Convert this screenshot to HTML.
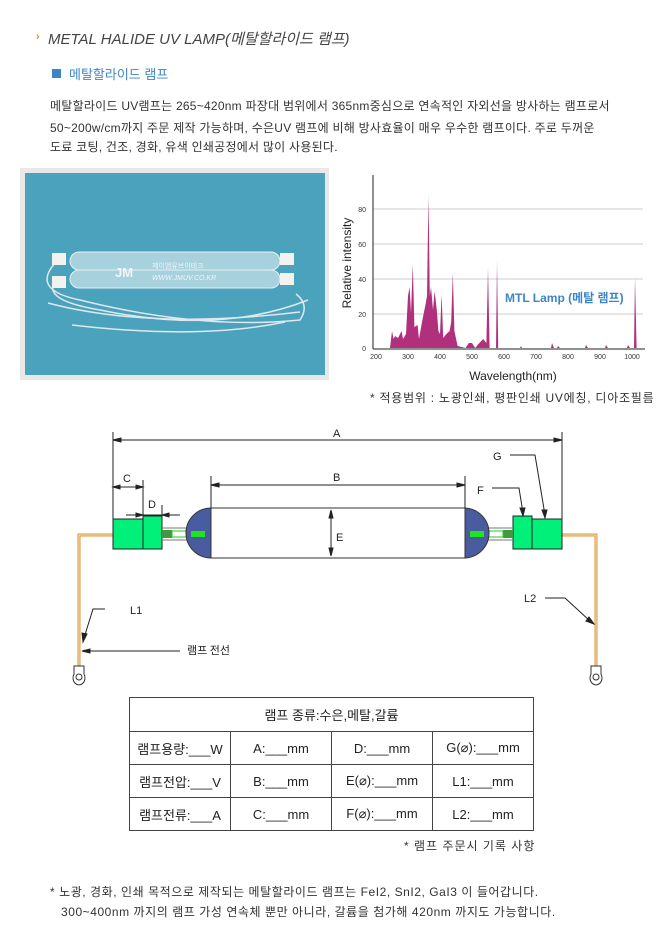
<!DOCTYPE html>
<html><head><meta charset="utf-8">
<style>
body{margin:0;width:670px;height:930px;background:#fff;position:relative;overflow:hidden;font-family:"Liberation Sans","Noto Sans CJK KR",sans-serif;}
.a{position:absolute;white-space:nowrap;}
.p{font-size:12px;color:#333;letter-spacing:0.25px;}
table{position:absolute;left:129px;top:697px;border-collapse:collapse;font-size:13px;color:#222;}
td{border:1px solid #444;text-align:center;height:32px;width:100px;padding:0;}
</style></head><body>
<div class="a" style="left:36px;top:31px;color:#e88a1a;font-size:11px;font-weight:bold">›</div>
<div class="a" style="left:48px;top:28px;font-size:15px;font-style:italic;color:#444">METAL HALIDE UV LAMP(메탈할라이드 램프)</div>
<div class="a" style="left:52px;top:69px;width:9px;height:9px;background:#3d86c6"></div>
<div class="a" style="left:69px;top:64px;font-size:13px;color:#3d86c6">메탈할라이드 램프</div>
<div class="a p" style="left:50px;top:97px">메탈할라이드 UV램프는 265~420nm 파장대 범위에서 365nm중심으로 연속적인 자외선을 방사하는 램프로서</div>
<div class="a p" style="left:50px;top:119px">50~200w/cm까지 주문 제작 가능하며, 수은UV 램프에 비해 방사효율이 매우 우수한 램프이다. 주로 두꺼운</div>
<div class="a p" style="left:50px;top:138px">도료 코팅, 건조, 경화, 유색 인쇄공정에서 많이 사용된다.</div>

<div class="a" style="left:20px;top:168px;width:309px;height:212px;background:#e8e8e8"></div>
<div class="a" style="left:25px;top:173px;width:300px;height:202px;background:#4aa2bd"></div>
<svg class="a" style="left:0;top:0" width="670" height="930">
<g fill="none" stroke="#dfe8ec" stroke-width="1.5">
<path d="M56 262 Q30 290 80 300 Q200 330 300 320 Q310 305 296 294"/>
<path d="M56 280 Q40 300 100 310 Q220 335 308 300"/>
<path d="M48 303 Q150 330 300 312"/>
<path d="M72 325 Q200 340 285 322"/>
</g>
<rect x="70" y="252" width="210" height="18" rx="9" fill="#a8d1de" stroke="#e6f0f3"/>
<rect x="70" y="270" width="210" height="18" rx="9" fill="#a8d1de" stroke="#e6f0f3"/>
<rect x="52" y="253" width="14" height="12" fill="#f2f2ee"/><rect x="280" y="253" width="14" height="12" fill="#f2f2ee"/>
<rect x="52" y="276" width="14" height="12" fill="#f2f2ee"/><rect x="280" y="273" width="14" height="12" fill="#f2f2ee"/>
<text x="115" y="277" font-size="13" font-weight="bold" fill="#eef6f8" font-family="Liberation Sans,sans-serif">JM</text>
<text x="152" y="268" font-size="7" fill="#eef6f8" font-family="Noto Sans CJK KR,sans-serif">제이엠유브이테크</text>
<text x="152" y="280" font-size="7" font-style="italic" fill="#eef6f8" font-family="Liberation Sans,sans-serif">WWW.JMUV.CO.KR</text>

<g stroke="#ccc" stroke-width="1">
<line x1="373" y1="209" x2="643" y2="209"/><line x1="373" y1="244" x2="643" y2="244"/>
<line x1="373" y1="279" x2="643" y2="279"/><line x1="373" y1="314" x2="643" y2="314"/>
</g>
<polygon fill="#b0307d" points="390,348 392,331 393.6,339 395,336 398,338 401.6,331 403,339 406,334 408,296 409.6,287 411,313 412.8,264 414.4,327 417.6,325 419,339 422,322 425.6,304 427,296 428.5,195 429.8,296 431,287 433,310 434.6,291 436.8,310 438.4,331 440,334 441.6,294 443.2,338 446.4,334 449.6,331 451.2,322 452.8,273 454.4,331 457.6,346 465.6,348 468.8,343 472,343 475.2,348 478.4,344 483.2,339 486.4,343 488,268 489.6,348 496,348 497,261 498.2,348 520,348 521,346 522,348 551,348 552,343 554,348 557,348 558,346 560,348 585,348 586,345 588,348 605,348 606,345 608,348 627,348 628,345 630,348 634,348 635,277 636.6,348"/>
<line x1="373" y1="175" x2="373" y2="349" stroke="#222"/>
<line x1="373" y1="349" x2="645" y2="349" stroke="#222"/>
<g font-size="7" fill="#333" font-family="Liberation Sans,sans-serif" text-anchor="end">
<text x="366" y="212">80</text><text x="366" y="247">60</text><text x="366" y="282">40</text><text x="366" y="317">20</text><text x="366" y="351">0</text>
</g>
<g font-size="7" fill="#333" font-family="Liberation Sans,sans-serif" text-anchor="middle">
<text x="376" y="359">200</text><text x="408" y="359">300</text><text x="440" y="359">400</text><text x="472" y="359">500</text><text x="504" y="359">600</text><text x="536" y="359">700</text><text x="568" y="359">800</text><text x="600" y="359">900</text><text x="632" y="359">1000</text>
</g>
<text x="0" y="0" transform="translate(351,263) rotate(-90)" text-anchor="middle" font-size="12" fill="#222" font-family="Liberation Sans,sans-serif">Relative intensity</text>
<text x="513" y="380" text-anchor="middle" font-size="12" fill="#222" font-family="Liberation Sans,sans-serif">Wavelength(nm)</text>
<text x="505" y="302" font-size="12" font-weight="bold" fill="#3d86c6" font-family="Liberation Sans,Noto Sans CJK KR,sans-serif">MTL Lamp (메탈 램프)</text>

<g id="L">
<path d="M113 535 H79 V668" fill="none" stroke="#d9963f" stroke-width="3"/>
<path d="M113 535 H79 V668" fill="none" stroke="#fbe2b8" stroke-width="1"/>
<path d="M74 666 H84 V674 A6 7 0 1 1 74 674 Z" fill="#fff" stroke="#333"/>
<circle cx="79" cy="677" r="3" fill="none" stroke="#333"/>
<rect x="113" y="519" width="30" height="30" fill="#00f07a" stroke="#222"/>
<rect x="143" y="516" width="19" height="33" fill="#00f07a" stroke="#222"/>
<line x1="162" y1="528" x2="190" y2="528" stroke="#777"/><line x1="162" y1="540" x2="190" y2="540" stroke="#777"/>
<rect x="162" y="530" width="10" height="8" fill="#3f9a3f"/>
<rect x="172" y="531" width="22" height="6" fill="#fff" stroke="#2c2"/>
<rect x="186" y="531" width="10" height="6" fill="#1ee51e"/>
<path d="M211 508 A25 25 0 0 0 211 558 Z" fill="#4a5ca0" stroke="#333"/>
<rect x="191" y="531" width="14" height="6" fill="#1ee51e"/>
</g>
<use href="#L" transform="translate(675,0) scale(-1,1)"/>
<rect x="211" y="508" width="254" height="50" fill="#fff" stroke="#333"/>
<g stroke="#222" stroke-width="1" fill="#222">
<line x1="113" y1="432" x2="113" y2="519"/><line x1="562" y1="432" x2="562" y2="519"/>
<line x1="113" y1="440" x2="562" y2="440"/>
<polygon points="113,440 121,438 121,442"/><polygon points="562,440 554,438 554,442"/>
<line x1="211" y1="476" x2="211" y2="508"/><line x1="465" y1="476" x2="465" y2="508"/>
<line x1="211" y1="485" x2="465" y2="485"/>
<polygon points="211,485 219,483 219,487"/><polygon points="465,485 457,483 457,487"/>
<line x1="143" y1="480" x2="143" y2="516"/>
<line x1="113" y1="487" x2="143" y2="487"/>
<polygon points="113,487 120,485 120,489"/><polygon points="143,487 136,485 136,489"/>
<line x1="162" y1="505" x2="162" y2="516"/>
<line x1="126" y1="515" x2="180" y2="515"/>
<polygon points="143,515 136,513 136,517"/><polygon points="162,515 169,513 169,517"/>
<line x1="331" y1="510" x2="331" y2="556"/>
<polygon points="331,510 329,518 333,518"/><polygon points="331,556 329,548 333,548"/>
<polyline points="492,488 519,488 523,513" fill="none"/><polygon points="523,516 520,508 525,508"/>
<polyline points="510,455 535,455 545,515" fill="none"/><polygon points="545,518 542,510 547,510"/>
<polyline points="105,609 93,609 84,638" fill="none"/><polygon points="83,642 82,633 87,634"/>
<polyline points="545,598 565,598 590,621" fill="none"/><polygon points="594,624 586,621 589,617"/>
<line x1="82" y1="651" x2="180" y2="651"/><polygon points="82,651 90,649 90,653"/>
</g>
<g font-size="11" fill="#222" font-family="Liberation Sans,sans-serif">
<text x="333" y="437">A</text><text x="333" y="481">B</text><text x="123" y="482">C</text><text x="148" y="508">D</text><text x="336" y="541">E</text><text x="477" y="494">F</text><text x="493" y="460">G</text><text x="130" y="614">L1</text><text x="524" y="602">L2</text>
<text x="187" y="654" font-size="11" font-family="Noto Sans CJK KR,sans-serif">램프 전선</text>
</g>
</svg>

<div class="a p" style="left:370px;top:389px;letter-spacing:0.75px">* 적용범위 : 노광인쇄, 평판인쇄 UV에칭, 디아조필름</div>

<table>
<tr><td colspan="4" style="height:33px">램프 종류:수은,메탈,갈륨</td></tr>
<tr><td>램프용량:___W</td><td>A:___mm</td><td>D:___mm</td><td>G(⌀):___mm</td></tr>
<tr><td>램프전압:___V</td><td>B:___mm</td><td>E(⌀):___mm</td><td>L1:___mm</td></tr>
<tr><td>램프전류:___A</td><td>C:___mm</td><td>F(⌀):___mm</td><td>L2:___mm</td></tr>
</table>
<div class="a p" style="left:404px;top:837px;letter-spacing:1px">* 램프 주문시 기록 사항</div>
<div class="a p" style="left:50px;top:883px;letter-spacing:0.55px">* 노광, 경화, 인쇄 목적으로 제작되는 메탈할라이드 램프는 FeI2, SnI2, GaI3 이 들어갑니다.</div>
<div class="a p" style="left:61px;top:903px;letter-spacing:0.55px">300~400nm 까지의 램프 가성 연속체 뿐만 아니라, 갈륨을 첨가해 420nm 까지도 가능합니다.</div>
</body></html>
